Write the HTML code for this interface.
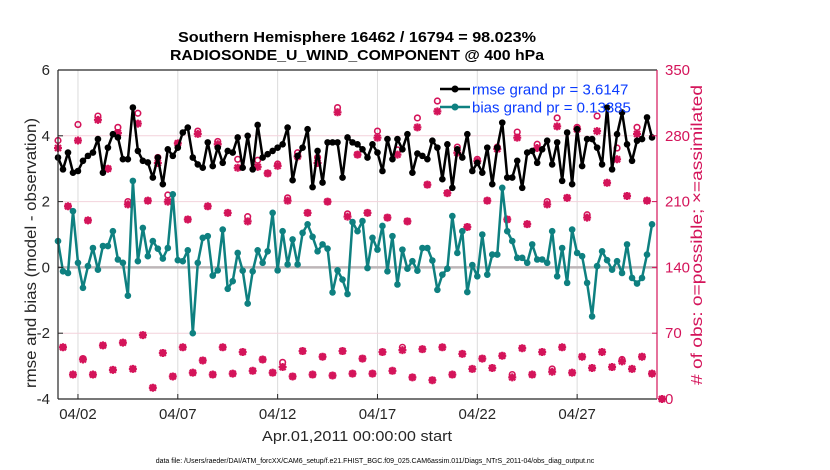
<!DOCTYPE html>
<html><head><meta charset="utf-8"><style>
html,body{margin:0;padding:0;background:#fff;width:830px;height:470px;overflow:hidden}
svg{display:block;font-family:"Liberation Sans",Arial,sans-serif}
</style></head><body>
<svg id="chart" width="830" height="470" viewBox="0 0 830 470">
<g id="grid"></g>
<g id="marks"></g>
<g id="axes"></g>
<text x="357" y="42" text-anchor="middle" font-size="15" font-weight="bold" textLength="358" lengthAdjust="spacingAndGlyphs">Southern Hemisphere 16462 / 16794 = 98.023%</text>
<text x="357" y="60" text-anchor="middle" font-size="15" font-weight="bold" textLength="374" lengthAdjust="spacingAndGlyphs">RADIOSONDE_U_WIND_COMPONENT @ 400 hPa</text>
<text transform="translate(36,253) rotate(-90)" text-anchor="middle" font-size="16" fill="#262626" textLength="270" lengthAdjust="spacingAndGlyphs">rmse and bias (model - observation)</text>
<text transform="translate(702,235) rotate(-90)" text-anchor="middle" font-size="16" fill="#d4145a" textLength="300" lengthAdjust="spacingAndGlyphs"># of obs: o=possible; ×=assimilated</text>
<text x="357" y="441" text-anchor="middle" font-size="15" fill="#262626" textLength="190" lengthAdjust="spacingAndGlyphs">Apr.01,2011 00:00:00 start</text>
<text x="375" y="463" text-anchor="middle" font-size="7" fill="#000">data file: /Users/raeder/DAI/ATM_forcXX/CAM6_setup/f.e21.FHIST_BGC.f09_025.CAM6assim.011/Diags_NTrS_2011-04/obs_diag_output.nc</text>
<g>
<line x1="440" y1="89" x2="470" y2="89" stroke="#000" stroke-width="2.5"/>
<circle cx="455" cy="89" r="3.5" fill="#000"/>
<text x="472" y="94.5" font-size="15" fill="#0a3cff">rmse grand pr = 3.6147</text>
<line x1="440" y1="107" x2="470" y2="107" stroke="#0e8080" stroke-width="2.5"/>
<circle cx="455" cy="107" r="3.5" fill="#0e8080"/>
<text x="472" y="112.5" font-size="15" fill="#0a3cff">bias grand pr = 0.13385</text>
</g>
</svg>
<script>
const rmse=[3.34,2.98,3.49,2.88,2.93,3.24,3.39,3.49,3.90,2.88,3.64,4.05,3.95,3.29,3.29,4.86,3.54,3.24,3.19,2.73,3.34,2.53,3.59,3.39,3.64,4.10,4.25,3.34,3.13,3.03,3.80,
3.08,3.64,3.18,3.54,3.49,3.95,3.03,4.00,2.98,4.33,3.34,3.44,3.54,3.64,3.74,4.25,2.65,3.39,3.64,4.20,2.44,3.54,2.58,3.80,3.80,3.80,2.73,3.95,3.80,3.74,
3.59,3.34,3.74,3.49,2.93,3.90,3.29,3.90,3.59,4.05,2.88,3.46,3.39,3.29,3.85,3.64,2.68,3.74,2.42,3.59,3.34,4.05,2.93,3.18,2.88,3.64,2.53,3.64,4.40,2.73,
2.73,3.24,2.42,3.49,3.54,3.18,3.59,3.85,3.13,3.80,2.63,4.10,2.53,4.20,3.08,3.90,3.90,3.64,3.13,4.86,2.98,4.05,4.71,3.74,3.24,3.85,3.90,4.56,3.95];
const bias=[0.80,-0.12,-0.17,1.71,0.14,-0.62,0.04,0.59,-0.07,0.65,0.65,1.10,0.24,0.14,-0.86,2.63,0.19,1.20,0.34,0.80,0.57,0.27,0.59,2.22,0.22,0.19,0.52,-2.00,0.14,0.90,0.95,
-0.25,-0.09,1.15,-0.65,-0.42,0.44,-0.10,-1.10,-0.12,0.52,0.14,0.49,1.66,-0.09,1.10,0.09,0.85,0.09,1.05,1.31,0.93,0.49,0.70,0.57,-0.76,-0.09,-0.37,-0.81,1.38,1.10,
1.41,-0.02,0.90,0.54,1.26,-0.12,0.95,-0.52,0.54,-0.04,0.19,-0.10,0.59,0.59,0.21,-0.68,-0.22,-0.04,1.56,0.44,1.10,-0.75,0.07,-0.27,1.00,-0.22,0.39,0.39,2.42,1.10,
0.80,0.29,0.29,0.14,0.70,0.24,0.24,0.14,1.10,-0.27,0.59,-0.47,1.15,0.44,0.34,-0.47,-1.49,0.04,0.49,0.22,-0.07,0.19,-0.17,0.70,-0.32,-0.49,-0.32,0.39,1.31];
const obsUpperAssim=[267,205,275,190,297,245,283,207,293,211,251,210,272,191,282,205,
271,198,246,189,247,240,248,211,258,198,251,210,305,194,260,
198,278,193,260,189,289,228,306,219,262,183,253,211,266,191,
278,186,267,207,290,214,287,193,285,230,255,216,282,211];
const obsUpperPoss=[275,205,292,190,301,245,289,210,304,211,257,217,272,191,285,205,
274,198,255,194,254,240,250,214,262,198,257,210,310,197,260,
198,285,193,265,189,299,228,317,219,268,183,255,211,268,191,
284,186,271,210,299,214,289,196,301,230,267,216,289,211];
const obsLowerAssim=[55,26,42,26,57,31,60,32,68,12,49,24,55,28,41,26,55,27,50,30,42,28,34,24,51,26,45,25,51,27,
43,27,50,30,52,23,53,20,55,26,48,32,43,33,46,23,54,26,50,29,55,28,45,33,50,34,40,32,45,27,0];
const obsLowerPoss=[55,26,43,26,57,31,60,32,68,12,49,24,55,28,41,26,55,27,50,30,42,28,39,24,51,26,45,25,51,27,
43,27,50,30,55,23,53,20,55,26,48,32,43,33,46,26,54,26,50,32,55,28,45,33,50,34,42,32,45,27,0];
const leftTicks=[-4,-2,0,2,4,6];
const rightTicks=[0,70,140,210,280,350];
const dateLabels=["04/02","04/07","04/12","04/17","04/22","04/27"];
const dateDays=[1,6,11,16,21,26];

const L=58,R=657,T=70,B=399;
const xStep=i=>L+i*(R-L)/120;
const xDay=d=>L+d*(R-L)/30;
const yL=v=>B-(v+4)*(B-T)/10;
const yR=v=>B-v*(B-T)/350;
const NS='http://www.w3.org/2000/svg';
function mk(tag,attrs,parent){const e=document.createElementNS(NS,tag);for(const k in attrs)e.setAttribute(k,attrs[k]);parent.appendChild(e);return e;}
const grid=document.getElementById('grid'),marks=document.getElementById('marks'),axes=document.getElementById('axes');
const MAG='#d4145a',TEAL='#0e8080';

dateDays.forEach((d,i)=>{
  const x=xDay(d);
  const g=mk('line',{x1:x,y1:T,x2:x,y2:B,stroke:'#dcdcdc','stroke-width':1},grid);
  
  
  const t=mk('line',{x1:x,y1:B,x2:x,y2:B-5,stroke:'#262626','stroke-width':1},axes);
  
  
  const lb=mk('text',{x:x,y:B+20,'text-anchor':'middle','font-size':15,fill:'#262626'},axes);
  lb.textContent=dateLabels[i];
  
  
});
rightTicks.forEach(v=>{
  const y=yR(v);
  if(v>0&&v<350){const g=mk('line',{x1:L,y1:y,x2:R,y2:y,stroke:'#f3d2dc','stroke-width':1},grid);
  
  }
  const t=mk('line',{x1:R,y1:y,x2:R-5,y2:y,stroke:MAG,'stroke-width':1},axes);
  
  
  const lb=mk('text',{x:R+8,y:y+5,'font-size':15,fill:MAG},axes);
  lb.textContent=v;
  
  
});
leftTicks.forEach(v=>{
  const y=yL(v);
  const t=mk('line',{x1:L,y1:y,x2:L+5,y2:y,stroke:'#262626','stroke-width':1},axes);
  
  
  const lb=mk('text',{x:L-8,y:y+5,'text-anchor':'end','font-size':15,fill:'#262626'},axes);
  lb.textContent=v;
  
  
});
const zl=mk('line',{x1:L,y1:yL(0),x2:R,y2:yL(0),stroke:'#bdb6b8','stroke-width':2.5},grid);



function obsAt(arrU,arrL){const o=[];for(let k=0;k<arrU.length||k<arrL.length;k++){if(k<arrU.length)o.push([2*k,arrU[k]]);if(k<arrL.length)o.push([2*k+1,arrL[k]]);}return o;}
const poss=obsAt(obsUpperPoss,obsLowerPoss), assim=obsAt(obsUpperAssim,obsLowerAssim);
poss.forEach(([i,v])=>{
  const c=mk('circle',{cx:xStep(i),cy:yR(v),r:2.8,fill:'none',stroke:MAG,'stroke-width':1.6},marks);
  
  
});
assim.forEach(([i,v])=>{
  const x=xStep(i),y=yR(v);
  const d=`M${x-4},${y}H${x+4}M${x},${y-4}V${y+4}M${x-3},${y-3}L${x+3},${y+3}M${x-3},${y+3}L${x+3},${y-3}`;
  const p=mk('path',{d:d,stroke:MAG,'stroke-width':2.2,fill:'none'},marks);
  
  
});

function series(arr,color,name){
  const pts=arr.map((v,i)=>xStep(i).toFixed(1)+','+yL(v).toFixed(1)).join(' ');
  const pl=mk('polyline',{points:pts,fill:'none',stroke:color,'stroke-width':2.5,'stroke-linejoin':'round'},marks);
  
  
  arr.forEach((v,i)=>{
    const c=mk('circle',{cx:xStep(i),cy:yL(v),r:3.3,fill:color},marks);
    
    
  });
}
series(bias,TEAL,'bias');
series(rmse,'#000','rmse');

const frameL=mk('line',{x1:L,y1:T,x2:L,y2:B,stroke:'#262626','stroke-width':1.2},axes);


const frameB=mk('line',{x1:L,y1:B,x2:R,y2:B,stroke:'#262626','stroke-width':1.2},axes);


const frameT=mk('line',{x1:L,y1:T,x2:R,y2:T,stroke:'#262626','stroke-width':1.2},axes);


const frameR=mk('line',{x1:R,y1:T,x2:R,y2:B,stroke:MAG,'stroke-width':1.2},axes);


</script>
</body></html>
